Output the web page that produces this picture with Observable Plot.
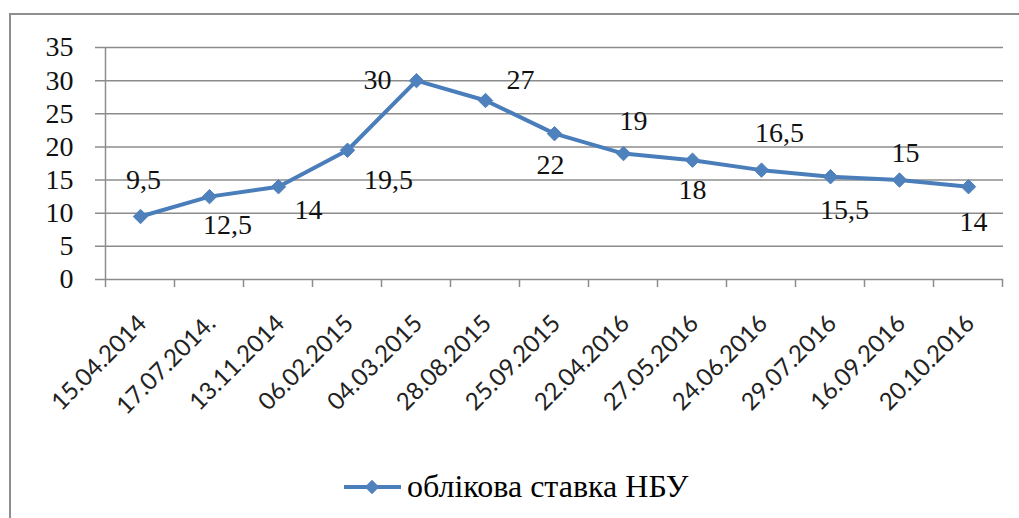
<!DOCTYPE html>
<html><head><meta charset="utf-8">
<script src="https://cdn.jsdelivr.net/npm/d3@7"></script>
<script src="https://cdn.jsdelivr.net/npm/@observablehq/plot@0.6"></script>
<style>
body{margin:0;background:#fff;width:1019px;height:518px;overflow:hidden;position:relative;}
#frame{position:absolute;left:9px;top:13px;width:1040px;height:540px;border:2px solid #8e8e8e;box-sizing:border-box;}
#chart{position:absolute;left:0;top:0;}
#legend{position:absolute;left:343px;top:468px;display:flex;align-items:center;font-family:"Liberation Serif","LiberationSerif","Tinos","Times New Roman","DejaVu Serif","Noto Serif","FreeSerif",serif;font-size:32px;color:#000;}
</style></head>
<body><div id="frame"></div><div id="chart"></div><div id="legend"></div>
<script>
const dates = ["15.04.2014","17.07.2014.","13.11.2014","06.02.2015","04.03.2015","28.08.2015","25.09.2015","22.04.2016","27.05.2016","24.06.2016","29.07.2016","16.09.2016","20.10.2016"];
const rates = [9.5,12.5,14,19.5,30,27,22,19,18,16.5,15.5,15,14];
const yTicks = [0,5,10,15,20,25,30,35];
const seriesName = "облікова ставка НБУ";

// data-label placement offsets (px), per point
const labelDx = [3,18,30,41,-39,35,-4,10,0,18,14,6,5];
const labelDy = [-36,28,23,30,-1,-20,31,-33,30,-37,33,-27,35];

const blue = "#4A7EBB";
const grid = "#8c8c8c";
const serif = "'Liberation Serif', LiberationSerif, Tinos, 'Times New Roman', 'DejaVu Serif', 'Noto Serif', FreeSerif, serif";

const data = dates.map((d,i)=>({date:d, rate:rates[i]}));
const fmt = v => String(v).replace(".", ",");

const boundaryMark = (index, scales, values, dims) => {
  const x = scales.x;
  const c = dates.map(d => x(d));
  const b = [];
  for (let i = 0; i <= c.length; i++) {
    if (i === 0) b.push(c[0] - (c[1]-c[0])/2);
    else if (i === c.length) b.push(c[i-1] + (c[i-1]-c[i-2])/2);
    else b.push((c[i-1]+c[i])/2);
  }
  const y0 = dims.height - dims.marginBottom;
  const g = d3.create("svg:g");
  g.selectAll("line.t").data(b).join("line")
    .attr("x1", d=>d).attr("x2", d=>d).attr("y1", y0).attr("y2", y0+8)
    .attr("stroke", grid).attr("stroke-width", 1.5);
  g.append("line").attr("x1", b[0]).attr("x2", b[0])
    .attr("y1", dims.marginTop).attr("y2", y0)
    .attr("stroke", grid).attr("stroke-width", 1.5);
  return g.node();
};

const labelMarks = data.map((d,i) => Plot.text([d], {
  x: "date", y: "rate", text: v => fmt(v.rate),
  dx: labelDx[i], dy: labelDy[i],
  fontSize: 28, fontFamily: serif, fill: "#111", lineAnchor: "middle", textAnchor: "middle"
}));

const chart = Plot.plot({
  width: 1019, height: 440,
  marginLeft: 105, marginRight: 16, marginTop: 47, marginBottom: 161,
  style: {background: "transparent", overflow: "visible"},
  x: {type: "point", domain: dates, padding: 0.5, axis: null},
  y: {domain: [0, 35], axis: null},
  marks: [
    Plot.ruleY(yTicks, {stroke: grid, strokeWidth: 1.5, insetLeft: -10}),
    Plot.axisY({ticks: yTicks, tickSize: 0, tickPadding: 32, fontSize: 28, fontFamily: serif, fill: "#111", label: null}),
    boundaryMark,
    Plot.text(dates, {x: d=>d, frameAnchor: "bottom", text: d=>d, rotate: -45, textAnchor: "end", lineAnchor: "middle",
      dy: 40, dx: 2, fontSize: 24, fontFamily: "Lato, Open Sans, sans-serif", fill: "#222"}),
    Plot.line(data, {x: "date", y: "rate", stroke: blue, strokeWidth: 4}),
    Plot.dot(data, {x: "date", y: "rate", symbol: "diamond2", r: 6.5, fill: "#4F81BD", stroke: "#4F81BD", strokeWidth: 1}),
    ...labelMarks
  ]
});
document.getElementById("chart").appendChild(chart);

// legend
const lg = document.getElementById("legend");
const sw = d3.create("svg").attr("width", 60).attr("height", 24);
sw.append("line").attr("x1", 1).attr("x2", 58).attr("y1", 12).attr("y2", 12).attr("stroke", blue).attr("stroke-width", 4);
sw.append("path").attr("d", d3.symbol(d3.symbolDiamond2, 133)()).attr("transform", "translate(29,12)").attr("fill", "#4F81BD");
lg.appendChild(sw.node());
const t = document.createElement("span");
t.textContent = seriesName;
t.style.marginLeft = "4px";
lg.appendChild(t);
</script>
</body></html>
